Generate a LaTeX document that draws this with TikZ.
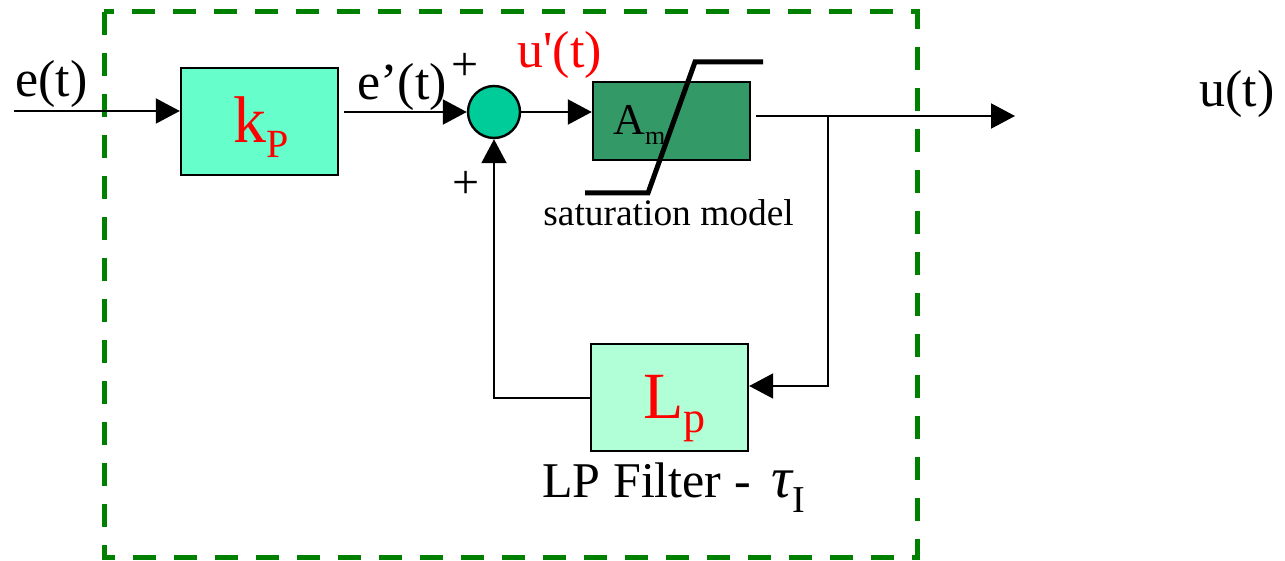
\documentclass[tikz,border=0pt]{standalone}
\usepackage{fontspec}
\setmainfont{Liberation Serif}
\newfontfamily\rawfont{Liberation Serif}
\usetikzlibrary{arrows.meta,calc}
\definecolor{kpfill}{HTML}{66FFCC}
\definecolor{amfill}{HTML}{339966}
\definecolor{lpfill}{HTML}{B0FFD6}
\definecolor{sumfill}{HTML}{00CC99}
\definecolor{dashgreen}{HTML}{008000}
\begin{document}
\begin{tikzpicture}[x=0.5pt,y=-0.5pt,
  blk/.style={draw=black,line width=1.2pt,minimum width=78.5pt,minimum height=53.5pt,inner sep=0pt},
  conn/.style={line width=1pt},
  arr/.style={conn,-{Triangle[length=12pt,width=12.5pt]}},
  lbl/.style={inner sep=0pt,font=\fontsize{26}{30}\selectfont},
  sml/.style={inner sep=0pt},
]
\useasboundingbox (0,0) rectangle (1285,561);
\draw[dashgreen,line width=2.5pt,dash pattern=on 11.5pt off 9pt] (104,12) rectangle (917,557);

% blocks
\node[blk,fill=kpfill] (kP) at (259.5,121.5) {};
\node[blk,fill=amfill,minimum height=39pt] (Am) at (671.5,121) {};
\node[blk,fill=lpfill] (Lp) at (669.5,397.5) {};
\node[circle,draw,line width=1.2pt,fill=sumfill,minimum size=26pt,inner sep=0pt] (sum) at (494,112) {};

% connectors
\coordinate (ein) at (14,111);
\coordinate (branch) at (828,116);
\coordinate (uout) at (1015,116);
\draw[arr] (ein) -- (ein -| kP.west);
\draw[arr,shorten <=2.5pt] (kP.east |- sum.west) -- (sum.west);
\draw[arr] (sum.east) -- (sum.east -| Am.west);
\draw[arr,shorten <=2.5pt] (Am.east |- branch) -- (uout);
\draw[arr] (branch) |- ($(Lp.east)+(0,-11.5)$);
\draw[arr] (Lp.west) -| (sum.south);

% saturation curve
\draw[line width=2.5pt] (585,193) -- (648,193) -- (695,62) -- (763,62);

% labels
\node[lbl,anchor=base west] (et) at (15,97) {e(t)};
\node[lbl,anchor=base west] (ept) at (357,100) {e’(t)};
\node[lbl,anchor=base west,text=red] (upt) at (517,68) {\rawfont u'(t)};
\node[lbl,anchor=base west] (ut) at (1199,107) {u(t)};
\node[sml,font=\fontsize{24}{26}\selectfont] (plus1) at (465,67) {+};
\node[sml,font=\fontsize{24}{26}\selectfont] (plus2) at (466,185) {+};
\node[sml,anchor=base west,text=red] (kPl) at (233,143) {\fontsize{33}{36}\selectfont k\raisebox{-7.5pt}{\fontsize{20}{22}\selectfont P}};
\node[sml,anchor=base west] (Aml) at (613,135) {\fontsize{22}{24}\selectfont A\raisebox{-5pt}{\fontsize{13}{15}\selectfont m}};
\node[sml,anchor=base west,text=red] (Lpl) at (643,418) {\fontsize{33}{36}\selectfont L\raisebox{-7pt}{\fontsize{22}{24}\selectfont p}};
\node[sml,anchor=base west,font=\fontsize{18.7}{20}\selectfont] (satl) at (543,226) {saturation model};
\node[sml,anchor=base west] (lpfl) at (542,497) {\fontsize{25}{28}\selectfont LP Filter - \,{\fontsize{29}{30}\selectfont\itshape τ}\raisebox{-7.5pt}{\fontsize{19}{20}\selectfont I}};
\end{tikzpicture}
\end{document}
